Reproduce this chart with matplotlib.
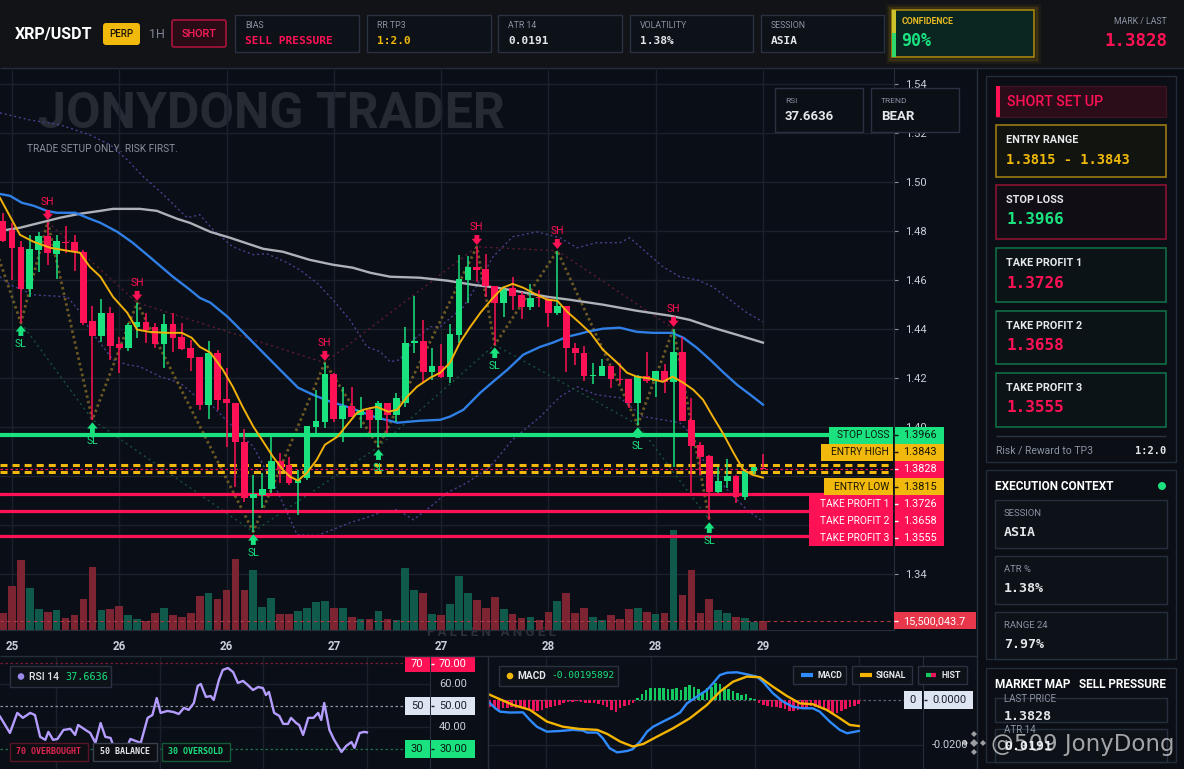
import matplotlib
matplotlib.use('Agg')
import matplotlib.pyplot as plt
from matplotlib.patches import Rectangle, FancyBboxPatch, Circle, Polygon

plt.rcParams['font.family'] = ['Roboto', 'DejaVu Sans']
SANS = ['Roboto', 'DejaVu Sans']
MONO = ['DejaVu Sans Mono']

# ---------------- data ----------------
opens = [1.4841,1.4805,1.4735,1.4564,1.4723,1.4780,1.4707,1.4756,1.4756,1.4715,
         1.4433,1.4372,1.4466,1.4339,1.4323,1.4409,1.4429,1.4409,1.4339,1.4421,
         1.4368,1.4323,1.4286,1.4091,1.4303,1.4115,1.4099,1.3940,1.3711,1.3723,
         1.3748,1.3862,1.3846,1.3772,1.3793,1.4001,1.4021,1.4217,1.4033,1.4087,
         1.4050,1.4070,1.4029,1.4099,1.4050,1.4099,1.4344,1.4352,1.4225,1.4250,
         1.4205,1.4376,1.4601,1.4654,1.4646,1.4576,1.4507,1.4568,1.4539,1.4490,
         1.4531,1.4523,1.4466,1.4495,1.4323,1.4303,1.4209,1.4209,1.4250,1.4197,
         1.4197,1.4099,1.4209,1.4189,1.4229,1.4184,1.4307,1.4029,1.3927,1.3882,
         1.3736,1.3781,1.3801,1.3715,1.3821,1.3832]
highs = [1.4874,1.4833,1.4760,1.4784,1.4796,1.4837,1.4784,1.4821,1.4784,1.4723,
         1.4495,1.4523,1.4490,1.4368,1.4425,1.4507,1.4466,1.4425,1.4462,1.4466,
         1.4425,1.4356,1.4286,1.4352,1.4315,1.4242,1.4099,1.3993,1.3805,1.3813,
         1.3960,1.3895,1.3878,1.3825,1.4005,1.4152,1.4262,1.4221,1.4164,1.4164,
         1.4123,1.4082,1.4107,1.4099,1.4140,1.4409,1.4535,1.4437,1.4323,1.4339,
         1.4421,1.4703,1.4699,1.4735,1.4707,1.4576,1.4576,1.4613,1.4552,1.4584,
         1.4560,1.4527,1.4719,1.4495,1.4343,1.4331,1.4262,1.4278,1.4250,1.4262,
         1.4197,1.4213,1.4307,1.4229,1.4258,1.4401,1.4368,1.4119,1.3940,1.3886,
         1.3838,1.3870,1.3805,1.3829,1.3838,1.3891]
lows = [1.4756,1.4601,1.4425,1.4531,1.4633,1.4662,1.4605,1.4711,1.4637,1.4417,
        1.4029,1.4348,1.4274,1.4221,1.4311,1.4364,1.4344,1.4323,1.4242,1.4307,
        1.4315,1.4229,1.4070,1.4033,1.4070,1.3919,1.3756,1.3695,1.3572,1.3670,
        1.3732,1.3772,1.3764,1.3642,1.3785,1.3976,1.3997,1.4021,1.3940,1.4042,
        1.3997,1.3976,1.3919,1.3976,1.4021,1.4082,1.4303,1.4180,1.4193,1.4201,
        1.4180,1.4344,1.4507,1.4593,1.4531,1.4335,1.4450,1.4478,1.4441,1.4478,
        1.4490,1.4409,1.4458,1.4225,1.4254,1.4189,1.4176,1.4209,1.4160,1.4176,
        1.4078,1.4009,1.4180,1.4123,1.4140,1.3838,1.4025,1.3723,1.3805,1.3621,
        1.3732,1.3752,1.3691,1.3703,1.3805,1.3828]
closes = [1.4760,1.4731,1.4564,1.4727,1.4780,1.4711,1.4760,1.4752,1.4715,1.4425,
          1.4372,1.4466,1.4331,1.4323,1.4417,1.4429,1.4397,1.4339,1.4421,1.4364,
          1.4319,1.4282,1.4091,1.4303,1.4111,1.4099,1.3940,1.3711,1.3727,1.3748,
          1.3862,1.3829,1.3772,1.3785,1.4005,1.4025,1.4217,1.4033,1.4087,1.4042,
          1.4070,1.4029,1.4099,1.4050,1.4119,1.4344,1.4352,1.4225,1.4250,1.4205,
          1.4380,1.4605,1.4654,1.4641,1.4576,1.4507,1.4560,1.4535,1.4490,1.4527,
          1.4527,1.4466,1.4495,1.4323,1.4303,1.4209,1.4213,1.4250,1.4197,1.4193,
          1.4099,1.4209,1.4189,1.4229,1.4184,1.4307,1.4025,1.3923,1.3878,1.3736,
          1.3781,1.3801,1.3715,1.3821,1.3838,1.3828]
volumes_m = [29.2,75.7,120.4,72.2,36.1,31.0,34.4,20.6,25.8,53.3,
             108.4,34.4,36.1,41.3,25.8,18.9,15.5,29.2,37.8,25.8,
             22.4,29.2,58.5,63.6,53.3,68.8,122.1,68.8,103.2,39.6,
             55.0,27.5,27.5,32.7,37.8,48.2,49.9,37.8,37.8,22.4,
             18.9,18.9,32.7,18.9,17.2,106.6,68.8,63.6,27.5,25.8,
             44.7,92.9,63.6,51.6,37.8,56.8,36.1,27.5,20.6,22.4,
             17.2,31.0,49.9,63.6,29.2,37.8,22.4,17.2,25.8,18.9,
             36.1,37.8,31.0,27.5,29.2,172.0,60.2,103.2,29.2,53.3,
             34.4,29.2,22.4,20.6,13.8,15.5000437]
last_volume_label = '15,500,043.7'
x_labels = ['25', '26', '26', '27', '27', '28', '28', '29']
x_label_bars = [1, 13, 25, 37, 49, 61, 73, 85]

ema_fast_t = [-0.34,1.9,3.4,5.3,7.2,8.6,9.7,10.9,12.3,13.9,15.0,16.4,18.3,20.0,21.1,22.0,23.2,24.6,25.7,26.8,
              28.0,29.1,30.2,31.3,32.1,33.0,34.0,35.1,36.0,37.4,38.5,39.6,40.3,41.8,43.1,44.1,45.2,46.3,47.8,48.9,
              50.0,51.1,52.2,53.4,54.8,55.9,57.0,58.2,59.7,60.9,62.0,63.1,64.5,65.7,67.1,68.7,69.8,70.9,72.4,73.8,
              74.9,76.1,77.2,78.3,79.4,80.5,81.7,82.8,83.8,85.0]
ema_fast_v = [1.4935,1.4784,1.4756,1.4731,1.4719,1.4711,1.4654,1.4613,1.4531,1.4466,1.4397,1.4388,1.4384,1.4384,1.4364,1.4327,1.4303,1.4233,1.4164,1.4082,
              1.4001,1.3940,1.3878,1.3825,1.3797,1.3781,1.3813,1.3866,1.3927,1.3960,1.4009,1.4058,1.4070,1.4082,1.4062,1.4070,1.4123,1.4164,1.4201,1.4221,
              1.4262,1.4344,1.4405,1.4466,1.4527,1.4568,1.4584,1.4568,1.4539,1.4519,1.4515,1.4470,1.4425,1.4384,1.4315,1.4262,1.4221,1.4205,1.4197,1.4184,
              1.4205,1.4180,1.4152,1.4111,1.4042,1.3976,1.3895,1.3825,1.3805,1.3793]
ema_mid_t = [-0.34,0.8,2.1,3.4,4.9,6.0,8.1,9.4,10.9,12.8,14.5,16.4,19.0,20.9,22.0,23.2,25.1,26.8,29.1,31.0,
             33.0,34.7,36.6,38.5,40.3,41.8,43.3,44.1,46.6,48.9,50.0,51.5,53.4,54.8,56.4,58.2,60.1,61.5,63.1,64.5,
             65.3,67.1,69.0,70.9,72.7,74.8,76.1,77.6,79.1,80.5,82.1,83.6,85.0]
ema_mid_v = [1.4951,1.4943,1.4915,1.4903,1.4882,1.4874,1.4874,1.4854,1.4833,1.4796,1.4752,1.4694,1.4613,1.4560,1.4527,1.4507,1.4450,1.4388,1.4303,1.4233,
             1.4160,1.4131,1.4103,1.4082,1.4058,1.4038,1.4025,1.4017,1.4025,1.4029,1.4042,1.4070,1.4140,1.4184,1.4233,1.4295,1.4327,1.4344,1.4368,1.4380,
             1.4388,1.4401,1.4405,1.4388,1.4384,1.4384,1.4364,1.4323,1.4274,1.4225,1.4172,1.4131,1.4091]
ema_slow_t = [-0.34,1.9,4.1,6.4,8.6,10.9,12.3,15.3,17.2,19.5,20.9,23.2,25.4,29.1,31.3,34.3,36.9,39.1,41.1,43.3,
              46.6,49.7,52.6,55.3,57.8,60.9,63.4,67.1,70.9,74.6,76.8,79.4,82.1,85.0]
ema_slow_v = [1.4800,1.4813,1.4833,1.4854,1.4870,1.4882,1.4890,1.4890,1.4882,1.4849,1.4833,1.4796,1.4772,1.4727,1.4715,1.4682,1.4662,1.4650,1.4629,1.4613,
              1.4609,1.4597,1.4580,1.4568,1.4552,1.4531,1.4519,1.4499,1.4474,1.4454,1.4437,1.4405,1.4376,1.4344]
band_up_t = [-0.34,3.0,6.4,9.7,12.0,13.9,15.7,17.6,20.6,22.0,23.5,25.7,28.0,29.5,31.8,33.2,35.1,36.9,38.8,40.7,
             42.2,43.3,44.4,45.9,47.8,48.9,51.5,53.4,54.8,57.0,59.7,62.3,64.2,66.4,69.0,70.1,72.0,73.8,75.7,77.6,
             79.4,81.3,83.2,85.0]
band_up_v = [1.5282,1.5253,1.5233,1.5192,1.5151,1.5090,1.5021,1.4960,1.4854,1.4866,1.4805,1.4735,1.4703,1.4707,1.4670,1.4641,1.4588,1.4519,1.4437,1.4327,
             1.4307,1.4266,1.4274,1.4356,1.4409,1.4409,1.4490,1.4601,1.4694,1.4776,1.4796,1.4772,1.4731,1.4752,1.4752,1.4772,1.4711,1.4654,1.4613,1.4601,
             1.4572,1.4519,1.4466,1.4429]
band_lo_t = [-0.34,0.8,3.4,7.2,8.6,9.7,12.3,13.9,15.3,17.6,19.8,22.0,23.5,25.7,28.0,30.6,32.9,35.1,36.9,38.8,
             40.7,42.5,44.1,45.9,47.8,49.7,51.9,54.5,57.0,60.1,62.3,64.2,66.4,69.0,71.6,73.8,75.7,76.8,78.7,81.3,
             83.2,85.0]
band_lo_v = [1.4613,1.4580,1.4539,1.4531,1.4470,1.4397,1.4274,1.4254,1.4246,1.4205,1.4180,1.4111,1.4082,1.4001,1.3919,1.3744,1.3560,1.3556,1.3581,1.3609,
             1.3630,1.3654,1.3662,1.3621,1.3674,1.3732,1.3772,1.3838,1.3948,1.4042,1.4123,1.4164,1.4131,1.4119,1.4042,1.4029,1.4017,1.3976,1.3838,1.3732,
             1.3662,1.3613]

swing_high_idx = [5, 15, 36, 53, 62, 75]
swing_low_idx = [2, 10, 28, 42, 55, 71, 79]
zigzag_start = (-1.0, 1.4745)

stop_loss = 1.3966
entry_high = 1.3843
last_price = 1.3828
entry_low = 1.3815
tp1, tp2, tp3 = 1.3726, 1.3658, 1.3555
price_ticks = [1.34, 1.36, 1.38, 1.40, 1.42, 1.44, 1.46, 1.48, 1.50, 1.52, 1.54]
hidden_ticks = [1.36, 1.38]   # covered by the level tags

rsi_t = [0,2.3,4.0,5.3,7.0,8.1,9.3,10.5,11.2,12.3,13.3,14.7,16.3,17.4,18.1,19.8,20.9,22.1,23.3,24.4,
         25.6,27.2,28.6,30.2,32.6,34.2,35.3,36.3,37.2,38.8,40.2,41.4,42.6,43.7,44.9,45.8,46.5,47.7,48.8,49.5,
         50.7,51.6,52.8,54.0,55.1,56.3,57.4,58.6,59.8,60.9,61.6,62.3,63.5,64.7,65.6,66.7,67.4,68.6,69.3,70.2,
         71.4,72.6,73.7,74.4,75.1,76.3,77.4,79.1,80.2,81.4,82.1,83.3,84.4,85.0]
rsi_v = [45.0,37.4,46.7,44.4,46.7,45.7,35.6,34.2,37.9,34.2,34.6,38.8,39.3,36.5,41.1,38.8,37.4,32.8,42.0,35.6,
         35.1,26.3,26.8,34.6,32.8,44.4,45.7,53.6,46.7,47.6,47.1,46.2,49.0,48.1,51.3,59.2,60.1,54.1,54.5,52.7,
         61.9,66.6,67.5,65.6,60.6,61.5,59.6,57.3,58.7,58.2,55.0,56.4,46.7,45.3,41.6,41.6,44.4,42.0,41.1,36.5,
         44.4,44.4,46.7,43.4,51.3,38.8,34.2,28.6,31.4,33.2,30.5,37.4,37.9,37.6636]

macd_t = [-0.4,1.2,2.3,4.6,7.6,9.2,10.8,13.1,16.1,19.1,21.4,22.4,24.7,26.0,27.6,29.3,31.6,32.9,34.6,36.2,
          37.6,39.9,42.2,43.8,45.4,47.7,50.0,51.4,53.0,54.6,56.9,59.2,61.5,62.9,65.2,67.5,69.8,72.1,74.4,76.0,
          78.3,80.6,82.3,85.0]
macd_v = [-0.0007,-0.0037,-0.0052,-0.0056,-0.0055,-0.0089,-0.0119,-0.0141,-0.0138,-0.0133,-0.0136,-0.0145,-0.0145,-0.0170,-0.0215,-0.0233,-0.0227,-0.0219,-0.0185,-0.0141,
          -0.0119,-0.0096,-0.0074,-0.0056,-0.0015,0.0015,0.0044,0.0074,0.0111,0.0121,0.0123,0.0114,0.0104,0.0081,0.0030,-0.0007,-0.0030,-0.0037,-0.0037,-0.0052,
          -0.0096,-0.0133,-0.0148,-0.0138]
sig_t = [-0.5,2.3,5.3,9.2,13.1,16.8,20.7,24.7,27.0,30.0,32.9,35.3,38.5,42.2,46.1,50.0,53.0,56.0,59.2,62.2,
         65.2,68.4,71.4,74.4,77.6,80.6,82.9,85.0]
sig_v = [0.0027,0.0003,-0.0022,-0.0044,-0.0096,-0.0119,-0.0129,-0.0133,-0.0151,-0.0185,-0.0207,-0.0196,-0.0163,-0.0126,-0.0081,-0.0022,0.0037,0.0081,0.0104,0.0101,
         0.0059,0.0018,-0.0015,-0.0019,-0.0044,-0.0081,-0.0111,-0.0116]
hist_v = [-0.00296,-0.00296,-0.00444,-0.0037,-0.0037,-0.00296,-0.0037,-0.0037,-0.00415,-0.00444,
          -0.00474,-0.00474,-0.00444,-0.0037,-0.00296,-0.00252,-0.00222,-0.00148,-0.00104,-0.00074,
          -0.00044,-0.00074,-0.00148,-0.00119,-0.00148,-0.00178,-0.00222,-0.00326,-0.00444,-0.00519,
          -0.0037,-0.00252,-0.00222,-0.00148,
          0.00074,0.00267,0.00444,0.00519,0.00519,0.00519,0.00519,0.00474,0.00474,0.00519,
          0.00444,0.00593,0.00667,0.00593,0.00489,0.0037,0.00519,0.00593,0.00741,0.00711,
          0.00593,0.00474,0.00415,0.00326,0.00222,0.00267,0.00074,0.0003,
          -0.00119,-0.00222,-0.00252,-0.00296,-0.00296,-0.0037,-0.004,-0.00474,-0.00474,-0.00444,
          -0.0037,-0.0037,-0.00252,-0.00296,-0.0037,-0.00444,-0.00519,-0.00563,-0.00563,-0.00474,
          -0.00415,-0.00296,-0.00267,-0.00193]

# ---------------- style ----------------
W, H = 1184, 769
BG = '#0a0e16'
HEAD = '#121317'
PANEL = '#0a0d13'
GRID = '#1a212d'
BORDER = '#262e3c'
GREEN = '#19e27f'
RED = '#ff1155'
YEL = '#f0b90b'
TXT = '#e4e7ec'
MUTED = '#8a93a3'
AXT = '#c9ced8'
VRED = '#7c2431'
VGREEN = '#0f5a4b'

fig = plt.figure(figsize=(W / 100, H / 100), dpi=100)
fig.patch.set_facecolor(BG)


def axes_px(x0, y0, x1, y1):
    return fig.add_axes([x0 / W, 1 - y1 / H, (x1 - x0) / W, (y1 - y0) / H])


def overlay(z):
    o = axes_px(0, 0, W, H)
    o.set_xlim(0, W)
    o.set_ylim(H, 0)
    o.axis('off')
    o.set_zorder(z)
    return o


def R(a, x0, y0, x1, y1, fc='none', ec='none', lw=1.0, z=1, rs=0, alpha=1.0):
    if rs:
        p = FancyBboxPatch((x0, y0), x1 - x0, y1 - y0, boxstyle=f'round,pad=0,rounding_size={rs}',
                           fc=fc, ec=ec, lw=lw, zorder=z, alpha=alpha)
    else:
        p = Rectangle((x0, y0), x1 - x0, y1 - y0, fc=fc, ec=ec, lw=lw, zorder=z, alpha=alpha)
    a.add_patch(p)


def T(a, x, y, s, size=8, color=TXT, weight='normal', family=None, ha='left', va='center', z=5, alpha=1.0):
    a.text(x, y, s, fontsize=size, color=color, fontweight=weight, family=family or SANS,
           ha=ha, va=va, zorder=z, alpha=alpha)


def L(a, xs, ys, color, lw=1.0, z=2, ls='-'):
    a.plot(xs, ys, color=color, lw=lw, zorder=z, ls=ls, solid_capstyle='butt')


bg = overlay(0)
R(bg, 0, 0, W, 67.5, fc=HEAD, z=0)
R(bg, 977, 68, W, H, fc=PANEL, z=0)
L(bg, [0, W], [67.5, 67.5], BORDER, 1)
T(bg, 38, 114, 'JONYDONG TRADER', size=36, color='#252a33', weight='bold', z=1)
T(bg, 27, 149, 'TRADE SETUP ONLY. RISK FIRST.', size=7.3, color='#8a909a', z=1)
T(bg, 427, 633, 'F A L L E N   A N G E L', size=9.5, color='#2a2f38', weight='bold', z=1)

# ---------------- main price chart ----------------
XL = (-0.336, 99.66)
YL = (1.3171, 1.5465)

axg = axes_px(0, 68, 894, 630)
axg.set_zorder(1)
axg.set_xlim(*XL)
axg.set_ylim(*YL)
axg.axis('off')
for p in price_ticks:
    axg.axhline(p, color=GRID, lw=1, zorder=0)
for b in x_label_bars:
    axg.axvline(b, color=GRID, lw=1, zorder=0)

axv = axes_px(0, 68, 894, 630)
axv.set_zorder(1.5)
axv.set_xlim(*XL)
axv.set_ylim(0, 967)
axv.axis('off')
n = len(opens)
idx = list(range(n))
up = [closes[i] >= opens[i] for i in idx]
axv.bar(idx, volumes_m, width=0.86, color=[VGREEN if u else VRED for u in up], zorder=1)
axv.axhline(volumes_m[-1], color='#b23a48', lw=0.8, ls=(0, (3, 3)), zorder=2)

ax = axes_px(0, 68, 894, 630)
ax.set_zorder(2)
ax.set_facecolor('none')
ax.set_xlim(*XL)
ax.set_ylim(*YL)
for s in ['top', 'left']:
    ax.spines[s].set_visible(False)
ax.spines['right'].set_color(BORDER)
ax.spines['bottom'].set_color(BORDER)
ax.yaxis.tick_right()
ax.set_yticks(price_ticks)
ax.set_yticklabels(['' if p in hidden_ticks else f'{p:.2f}' for p in price_ticks])
ax.tick_params(axis='y', colors='#8a93a3', labelcolor=AXT, labelsize=8, length=3, pad=5)
ax.set_xticks(x_label_bars)
ax.set_xticklabels(x_labels, fontweight='bold')
ax.tick_params(axis='x', length=0, labelcolor=AXT, labelsize=8.3, pad=7)

# bands and averages
ax.plot(band_up_t, band_up_v, color='#4a3f8e', lw=1, ls=(0, (1.5, 2)), zorder=2)
ax.plot(band_lo_t, band_lo_v, color='#4a3f8e', lw=1, ls=(0, (1.5, 2)), zorder=2)
ax.plot(ema_slow_t, ema_slow_v, color='#aeb1b8', lw=1.7, zorder=2.6)
ax.plot(ema_mid_t, ema_mid_v, color='#2f7fe6', lw=1.7, zorder=2.6)

# swing structure lines
sh_pts = [(i, highs[i]) for i in swing_high_idx]
sl_pts = [(i, lows[i]) for i in swing_low_idx]
ax.plot([p[0] for p in sh_pts], [p[1] for p in sh_pts], color='#5e1c30', lw=1, ls=(0, (1.5, 2.5)), zorder=2)
ax.plot([p[0] for p in sl_pts], [p[1] for p in sl_pts], color='#17503d', lw=1, ls=(0, (1.5, 2.5)), zorder=2)
zz = [zigzag_start] + sorted(sh_pts + sl_pts)
ax.plot([p[0] for p in zz], [p[1] for p in zz], color='#7d6526', lw=2.0, ls=(0, (0.9, 1.1)), zorder=2.2, alpha=0.85)

# level lines
ax.axhline(stop_loss, color=GREEN, lw=3.0, zorder=2.4)
for lv in (tp1, tp2, tp3):
    ax.axhline(lv, color=RED, lw=2.3, zorder=2.4)
for lv in (entry_high, entry_low):
    ax.axhline(lv, color=YEL, lw=2.2, ls=(0, (2.3, 1.65)), zorder=2.4)
ax.axhline(last_price, color=RED, lw=0.9, ls=(0, (2, 2)), zorder=2.4)

# candles
ccol = [GREEN if u else RED for u in up]
ax.vlines(idx, lows, highs, colors=ccol, lw=1.1, zorder=3)
body_lo = [min(opens[i], closes[i]) for i in idx]
body_h = [max(abs(closes[i] - opens[i]), 0.00045) for i in idx]
ax.bar(idx, body_h, bottom=body_lo, width=0.75, color=ccol, zorder=3.1)

ax.plot(ema_fast_t, ema_fast_v, color='#f2b10a', lw=1.4, zorder=3.5)

# swing labels
for i, h in sh_pts:
    ax.annotate('', xy=(i, h), xytext=(0, 8.5), textcoords='offset points',
                arrowprops=dict(arrowstyle='simple,head_length=0.45,head_width=0.75,tail_width=0.35',
                                fc=RED, ec='none', shrinkA=0, shrinkB=1.3), zorder=4)
    ax.annotate('SH', xy=(i, h), xytext=(0, 14), textcoords='offset points', ha='center', va='center',
                color=RED, fontsize=7.5, zorder=4)
for i, lo in sl_pts:
    ax.annotate('', xy=(i, lo), xytext=(0, -9.5), textcoords='offset points',
                arrowprops=dict(arrowstyle='simple,head_length=0.45,head_width=0.75,tail_width=0.35',
                                fc=GREEN, ec='none', shrinkA=0, shrinkB=1.8), zorder=4)
    ax.annotate('SL', xy=(i, lo), xytext=(0, -15.5), textcoords='offset points', ha='center', va='center',
                color=GREEN, fontsize=7.5, zorder=4)

# ---------------- RSI panel ----------------
ar = axes_px(0, 657, 430, 769)
ar.set_zorder(2)
ar.set_facecolor('none')
ar.set_xlim(0, 99.6)
ar.set_ylim(20.7, 72.6)
for s in ['top', 'left', 'bottom']:
    ar.spines[s].set_visible(False)
ar.spines['right'].set_color(BORDER)
ar.set_xticks([])
ar.set_yticks([])
for lv in (40, 60):
    ar.axhline(lv, color=GRID, lw=1, zorder=0)
for b in (13, 37, 61, 85):
    ar.axvline(b, color=GRID, lw=1, zorder=0)
ar.axhline(70, color='#7a1a36', lw=0.9, ls=(0, (2, 2)), zorder=1)
ar.axhline(50, color='#8d939e', lw=0.9, ls=(0, (2, 2)), zorder=1)
ar.axhline(30, color='#1b7048', lw=0.9, ls=(0, (2, 2)), zorder=1)
ar.plot(rsi_t, rsi_v, color='#b49dff', lw=1.7, zorder=3)

# ---------------- MACD panel ----------------
am = axes_px(488, 657, 923, 769)
am.set_zorder(2)
am.set_facecolor('none')
am.set_xlim(-0.46, 99.8)
am.set_ylim(-0.0307, 0.0191)
for s in ['top', 'left', 'bottom']:
    am.spines[s].set_visible(False)
am.spines['right'].set_color(BORDER)
am.set_xticks([])
am.set_yticks([])
am.axhline(-0.02, color=GRID, lw=1, zorder=0)
for b in (13, 37, 61, 85):
    am.axvline(b, color=GRID, lw=1, zorder=0)
am.axhline(0, color='#5d636e', lw=0.9, ls=(0, (2, 2)), zorder=1)
am.bar(list(range(len(hist_v))), hist_v, width=0.6,
       color=['#13c85e' if v >= 0 else '#e8135a' for v in hist_v], zorder=2)
am.plot(macd_t, macd_v, color='#2f8bff', lw=1.7, zorder=3)
am.plot(sig_t, sig_v, color='#f4b400', lw=1.7, zorder=3)

# ---------------- foreground overlay ----------------
fg = overlay(5)

# header
T(fg, 15, 34, 'XRP/USDT', size=11.5, color='white', weight='bold')
R(fg, 103, 23, 140, 45, fc=YEL, rs=3)
T(fg, 121.5, 34, 'PERP', size=7, color='#1a1405', ha='center', weight='medium')
T(fg, 149, 34, '1H', size=9, color='#7d8593')
R(fg, 172, 20, 226, 47, fc='#2a0c16', ec='#a8143c', lw=1.2, rs=2)
T(fg, 199, 34, 'SHORT', size=7.8, color='#ff1f5a', ha='center', weight='medium')
info = [(235, 359, 'BIAS', 'SELL PRESSURE', RED),
        (367, 491, 'RR TP3', '1:2.0', YEL),
        (498, 622, 'ATR 14', '0.0191', TXT),
        (630, 753, 'VOLATILITY', '1.38%', TXT),
        (761, 884, 'SESSION', 'ASIA', TXT)]
for x0, x1, lab, val, c in info:
    R(fg, x0, 15, x1, 52, fc='#0d1118', ec='#2a3140', lw=1)
    T(fg, x0 + 10, 26, lab, size=6.3, color=MUTED)
    T(fg, x0 + 10, 40.5, val, size=8, color=c, weight='bold', family=MONO)
for k, a in enumerate([0.05, 0.08, 0.12]):
    d = 5 - 1.6 * k
    R(fg, 892 - d, 10 - d, 1034 + d, 57 + d, fc='none', ec=YEL, lw=2, alpha=a)
R(fg, 892, 10, 1034, 57, fc='#0b2520', ec='#a8850f', lw=1.2)
R(fg, 892, 10, 896, 33, fc='#c9c22a')
R(fg, 892, 33, 896, 57, fc='#2fd86a')
T(fg, 902, 22, 'CONFIDENCE', size=6.3, color='#e8b923', weight='bold')
T(fg, 901, 41, '90%', size=12, color=GREEN, weight='bold', family=MONO)
T(fg, 1167, 22, 'MARK / LAST', size=6.3, color=MUTED, ha='right')
T(fg, 1167, 40.5, '1.3828', size=12.5, color=RED, weight='bold', family=MONO, ha='right')

# RSI / trend boxes on chart
for x0, x1, lab, val in [(775, 863, 'RSI', '37.6636'), (871, 959, 'TREND', 'BEAR')]:
    R(fg, x0, 88, x1, 132, fc='#0b0f16', ec='#2a3140', lw=1)
    T(fg, x0 + 10, 101, lab, size=6, color=MUTED)
    T(fg, x0 + 10, 117, val, size=9.5, color=TXT, weight='bold')

# level tags stacked along the price axis
y_sl = H - ax.transData.transform((0, stop_loss))[1]
tags = [('STOP LOSS', stop_loss, GREEN, '#0a1a10', 829),
        ('ENTRY HIGH', entry_high, YEL, '#1c1503', 821),
        ('', last_price, RED, 'white', None),
        ('ENTRY LOW', entry_low, YEL, '#1c1503', 824),
        ('TAKE PROFIT 1', tp1, RED, 'white', 809),
        ('TAKE PROFIT 2', tp2, RED, 'white', 809),
        ('TAKE PROFIT 3', tp3, RED, 'white', 809)]
for k, (lab, val, c, tc, x0) in enumerate(tags):
    yc = y_sl + 17.1 * k
    if lab:
        R(fg, x0, yc - 8.5, 893, yc + 8.5, fc=c)
        T(fg, 889, yc, lab, size=7.3, color=tc, ha='right')
    R(fg, 894, yc - 8.5, 944, yc + 8.5, fc=c)
    L(fg, [894, 898], [yc, yc], tc, 1, z=6)
    T(fg, 903, yc, f'{val:.4f}', size=7.8, color=tc)
L(fg, [893.5, 893.5], [y_sl - 8.5, y_sl + 17.1 * 6 + 8.5], '#0a0e16', 1.2, z=6)

vy = H - axv.transData.transform((0, volumes_m[-1]))[1]
R(fg, 894, vy - 8.5, 976, vy + 8.5, fc='#e8364b')
L(fg, [894, 898], [vy, vy], 'white', 1, z=6)
T(fg, 903, vy, last_volume_label, size=7.8, color='white')

# panel separators
L(fg, [0, 977], [656, 656], BORDER, 1)
L(fg, [487.5, 487.5], [656, H], BORDER, 1)
L(fg, [977, 977], [68, H], BORDER, 1)

# RSI labels
R(fg, 10, 666, 111, 687, fc='#0d1118', ec='#2a3140', lw=1)
fg.add_patch(Circle((21, 676.5), 3.3, fc='#9a88e8', ec='none', zorder=6))
T(fg, 29, 676.5, 'RSI 14', size=7.5, color=TXT, weight='medium', z=6)
T(fg, 65, 676.5, f'{rsi_v[-1]:.4f}', size=7.3, color=GREEN, family=MONO, z=6)
for x0, x1, s, c, ec in [(10, 88, '70 OVERBOUGHT', '#e0254f', '#5a1428'),
                         (93, 157, '50 BALANCE', TXT, '#3a404c'),
                         (162, 230, '30 OVERSOLD', GREEN, '#145a38')]:
    R(fg, x0, 743, x1, 761, fc='#0c0e13', ec=ec, lw=1)
    T(fg, (x0 + x1) / 2, 752, s, size=6, color=c, family=MONO, weight='bold', ha='center')
for lv, fc, tc in [(70, RED, 'white'), (50, '#dde5f3', '#1a1f2a'), (30, GREEN, '#0a1a10')]:
    yc = H - ar.transData.transform((0, lv))[1]
    yt, yb = max(yc - 9, 657), yc + 9
    R(fg, 405, yt, 429.5, yb, fc=fc)
    R(fg, 430.5, yt, 475, yb, fc=fc)
    T(fg, 417, (yt + yb) / 2, str(lv), size=8, color=tc, ha='center')
    T(fg, 439, (yt + yb) / 2, f'{lv:.2f}', size=8, color=tc)
    L(fg, [431, 434], [(yt + yb) / 2] * 2, tc, 1, z=6)
for lv in (60, 40):
    yc = H - ar.transData.transform((0, lv))[1]
    T(fg, 439, yc, f'{lv:.2f}', size=8, color=AXT)

# MACD labels
R(fg, 499, 666, 618, 686, fc='#0d1118', ec='#2a3140', lw=1)
fg.add_patch(Circle((510, 676), 3.3, fc=YEL, ec='none', zorder=6))
T(fg, 517, 676, 'MACD', size=7.3, color=TXT, weight='bold', z=6)
T(fg, 551, 676, '-0.00195892', size=6.8, color=GREEN, family=MONO, z=6)
for x0, x1, sw, s in [(793, 846, '#2f8bff', 'MACD'), (852, 912, '#f4b400', 'SIGNAL'), (918, 967, None, 'HIST')]:
    R(fg, x0, 666, x1, 684, fc='#0d1118', ec='#2a3140', lw=1)
    if sw:
        L(fg, [x0 + 8, x0 + 20], [675, 675], sw, 3, z=6)
    else:
        L(fg, [x0 + 8, x0 + 13], [675, 675], '#13c85e', 3, z=6)
        L(fg, [x0 + 13, x0 + 18], [675, 675], '#e8135a', 3, z=6)
    T(fg, x0 + 24, 675, s, size=6.3, color=TXT, weight='bold', z=6)
zy = H - am.transData.transform((0, 0))[1]
R(fg, 904, zy - 9, 922, zy + 9, fc='#dde5f3')
R(fg, 923.5, zy - 9, 973, zy + 9, fc='#dde5f3')
T(fg, 913, zy, '0', size=8, color='#1a1f2a', ha='center')
T(fg, 932, zy, '0.0000', size=8, color='#1a1f2a')
L(fg, [924, 927], [zy, zy], '#1a1f2a', 1, z=6)
my = H - am.transData.transform((0, -0.02))[1]
T(fg, 932, my, '-0.0200', size=7.8, color=AXT)

# right side panel: short setup
R(fg, 986, 76, 1176, 462, fc='#0b0f15', ec='#232c3a', lw=1, z=1)
R(fg, 996, 86, 1166, 117, fc='#2a0d19', ec='#3d1422', lw=1)
R(fg, 996, 86, 1000, 117, fc=RED)
T(fg, 1007, 101.5, 'SHORT SET UP', size=10.3, color=RED, weight='medium')
cards = [(125, 177, 'ENTRY RANGE', '1.3815 - 1.3843', YEL, '#9c7a12', 9.8, '#11140f'),
         (185, 239, 'STOP LOSS', f'{stop_loss:.4f}', GREEN, '#8a1232', 11.5, '#100d14'),
         (248, 302, 'TAKE PROFIT 1', f'{tp1:.4f}', RED, '#0f6e47', 11.5, '#0c1316'),
         (311, 364, 'TAKE PROFIT 2', f'{tp2:.4f}', RED, '#0f6e47', 11.5, '#0c1316'),
         (373, 427, 'TAKE PROFIT 3', f'{tp3:.4f}', RED, '#0f6e47', 11.5, '#0c1316')]
for y0, y1, lab, val, vc, ec, vs, fc in cards:
    R(fg, 996, y0, 1166, y1, fc=fc, ec=ec, lw=1.2)
    T(fg, 1006, y0 + 15, lab, size=7.8, color='#e6e8ec', weight='bold')
    T(fg, 1006, y0 + 35, val, size=vs, color=vc, weight='bold', family=MONO)
L(fg, [996, 1166], [436, 436], '#2a3342', 1)
T(fg, 996, 451, 'Risk / Reward to TP3', size=7.5, color=MUTED)
T(fg, 1166, 451, '1:2.0', size=7.5, color=TXT, weight='bold', family=MONO, ha='right')

# execution context
R(fg, 986, 470, 1176, 659, fc='#0b0f15', ec='#232c3a', lw=1, z=1)
T(fg, 995, 486, 'EXECUTION CONTEXT', size=8.5, color='white', weight='bold')
fg.add_patch(Circle((1162, 486), 4, fc=GREEN, ec='none', zorder=6))
for y0, lab, val in [(500, 'SESSION', 'ASIA'), (556, 'ATR %', '1.38%'), (612, 'RANGE 24', '7.97%')]:
    y1 = min(y0 + 48, 659)
    R(fg, 995, y0, 1167, y1, fc='#0d1118', ec='#262f3d', lw=1)
    T(fg, 1004, y0 + 13, lab, size=6.8, color=MUTED)
    T(fg, 1004, y0 + 32, val, size=9.5, color=TXT, weight='bold', family=MONO)

# market map
R(fg, 986, 668, 1176, 762, fc='#0b0f15', ec='#232c3a', lw=1, z=1)
T(fg, 995, 684, 'MARKET MAP', size=8.5, color='white', weight='bold')
T(fg, 1166, 684, 'SELL PRESSURE', size=8.5, color='white', weight='bold', ha='right')
R(fg, 995, 698, 1167, 722, fc='#0d1118', ec='#262f3d', lw=1)
T(fg, 1004, 699, 'LAST PRICE', size=7, color=MUTED)
T(fg, 1004, 716, '1.3828', size=9.5, color=TXT, weight='bold', family=MONO)
R(fg, 995, 729, 1167, 762, fc='#0d1118', ec='#262f3d', lw=1)
T(fg, 1004, 730, 'ATR 14', size=7, color=MUTED)
T(fg, 1004, 746, '0.0191', size=9.5, color=TXT, weight='bold', family=MONO)

# watermark
wm = overlay(8)
cx, cy = 974, 743
for dx, dy, s in [(0, 0, 4), (0, -9, 3), (0, 9, 3), (-9, 0, 3), (9, 0, 3)]:
    wm.add_patch(Polygon([(cx + dx, cy + dy - s), (cx + dx + s, cy + dy), (cx + dx, cy + dy + s), (cx + dx - s, cy + dy)],
                         closed=True, fc='white', ec='none', alpha=0.6, zorder=9))
T(wm, 991, 744, '@509 JonyDong', size=16.5, color='white', alpha=0.62, family=['DejaVu Sans'], z=9)

fig.savefig('out.png', dpi=100, facecolor=fig.get_facecolor())
